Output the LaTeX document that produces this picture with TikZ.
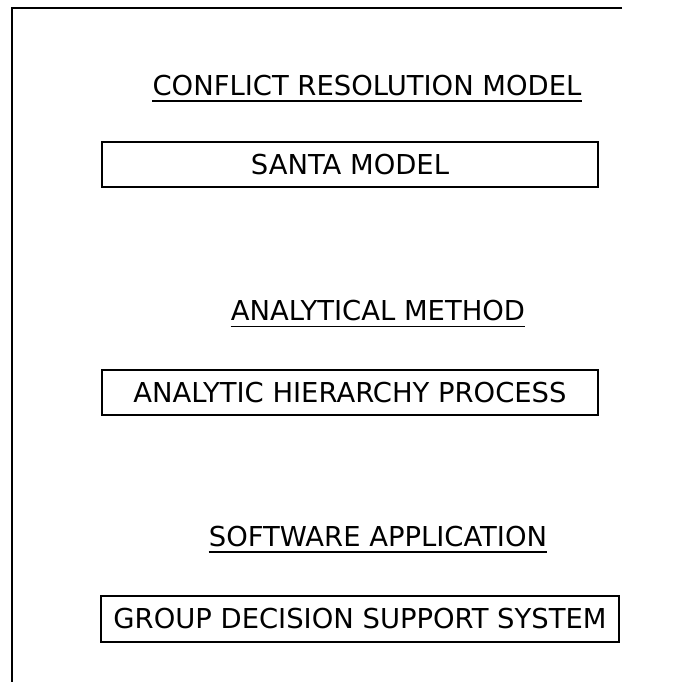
\documentclass[tikz,border=0pt]{standalone}
\usepackage{fontspec}
\setmainfont{DejaVu Sans}
\usetikzlibrary{positioning}

\tikzset{
    block/.style={draw, line width=1.4pt, inner sep=0pt, minimum width=14.88cm,
        minimum height=1.35cm, text height=0.6cm, text depth=0pt},
    heading/.style={inner sep=0pt, text height=0.6cm, text depth=0pt},
    uline/.style={line width=1.3pt},
    frame/.style={line width=1.6pt},
}

\begin{document}
\begin{tikzpicture}[font=\fontsize{23.4}{28}\selectfont]
    \useasboundingbox (0,0) rectangle (20.28,20.46);
    \draw[frame] (18.66,20.22) -- (0.36,20.22) -- (0.36,0);

    \node[block] (santa) at (10.5,15.525) {SANTA MODEL};
    \node[block] (ahp) at (10.5,8.685) {ANALYTIC HIERARCHY PROCESS};
    \node[block, minimum width=15.54cm, minimum height=1.38cm] (gdss) at (10.8,1.89) {GROUP DECISION SUPPORT SYSTEM};

    \node[heading, above=1.35cm of santa, xshift=0.51cm] (crm) {CONFLICT RESOLUTION MODEL};
    \node[heading, above=1.44cm of ahp, xshift=0.84cm] (method) {ANALYTICAL METHOD};
    \node[heading, above=1.44cm of gdss, xshift=0.54cm] (software) {SOFTWARE APPLICATION};

    \draw[uline] ([yshift=-0.14cm]crm.south west) -- ([yshift=-0.14cm]crm.south east);
    \draw[uline] ([yshift=-0.16cm]method.south west) -- ([yshift=-0.16cm]method.south east);
    \draw[uline] ([yshift=-0.14cm]software.south west) -- ([yshift=-0.14cm]software.south east);
\end{tikzpicture}
\end{document}
